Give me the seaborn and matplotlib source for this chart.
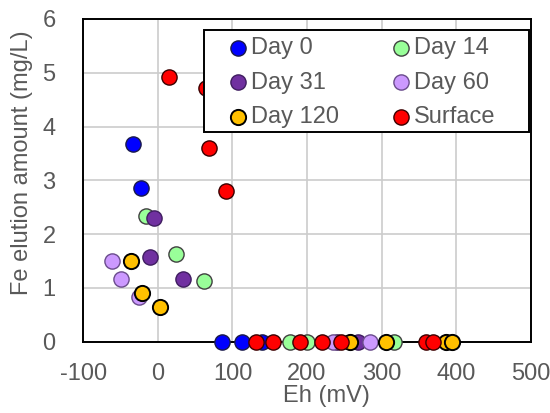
import matplotlib
matplotlib.use('Agg')
import matplotlib.pyplot as plt
from matplotlib.patches import Rectangle
import seaborn as sns
import pandas as pd

# Eh (mV) and Fe elution (mg/L)
day0_eh = [-34, -23, 86, 113, 139]
day0_fe = [3.67, 2.86, 0, 0, 0]
day14_eh = [-16, 24, 62, 177, 200, 316]
day14_fe = [2.34, 1.63, 1.13, 0, 0, 0]
day31_eh = [-5, -10, 33, 240, 269]
day31_fe = [2.30, 1.57, 1.16, 0, 0]
day60_eh = [-62, -50, -25, 235, 285]
day60_fe = [1.50, 1.16, 0.83, 0, 0]
day120_eh = [-36, -21, 3, 258, 306, 387, 394]
day120_fe = [1.50, 0.90, 0.65, 0, 0, 0, 0]
surface_eh = [15, 64, 68, 91, 132, 155, 191, 220, 246, 360, 369]
surface_fe = [4.92, 4.71, 3.61, 2.80, 0, 0, 0, 0, 0, 0, 0]

series = ['Day 0', 'Day 14', 'Day 31', 'Day 60', 'Day 120', 'Surface']
colors = {'Day 0': '#0000FF', 'Day 14': '#99FF99', 'Day 31': '#7030A0',
          'Day 60': '#CC99FF', 'Day 120': '#FFC000', 'Surface': '#FF0000'}
edges = {'Day 0': '#1a1a4a', 'Day 14': '#404040', 'Day 31': '#3f1d60',
         'Day 60': '#6a4c8c', 'Day 120': '#000000', 'Surface': '#3a0000'}

data = pd.concat([
    pd.DataFrame({'Eh': day0_eh, 'Fe': day0_fe, 'Series': 'Day 0'}),
    pd.DataFrame({'Eh': day14_eh, 'Fe': day14_fe, 'Series': 'Day 14'}),
    pd.DataFrame({'Eh': day31_eh, 'Fe': day31_fe, 'Series': 'Day 31'}),
    pd.DataFrame({'Eh': day60_eh, 'Fe': day60_fe, 'Series': 'Day 60'}),
    pd.DataFrame({'Eh': day120_eh, 'Fe': day120_fe, 'Series': 'Day 120'}),
    pd.DataFrame({'Eh': surface_eh, 'Fe': surface_fe, 'Series': 'Surface'}),
], ignore_index=True)

sns.set_style('white')
plt.rcParams['font.family'] = ['Liberation Sans', 'DejaVu Sans']
plt.rcParams['axes.unicode_minus'] = False
text_color = '#595959'

fig = plt.figure(figsize=(5.5, 4.13), dpi=100)
ax = fig.add_axes([0.1515, 0.1726, 0.8135, 0.7814])

for name in series:
    sns.scatterplot(data=data[data['Series'] == name], x='Eh', y='Fe', ax=ax,
                    color=colors[name], edgecolor=edges[name],
                    linewidth=1.4 if name == 'Day 120' else 1.0,
                    s=120, label=name, clip_on=False, zorder=3)

ax.set_xlim(-100, 500)
ax.set_ylim(0, 6)
ax.set_xticks(range(-100, 501, 100))
ax.set_yticks(range(0, 7))
ax.grid(True, color='#cccccc', linewidth=1.2)
ax.set_axisbelow(True)
for sp in ax.spines.values():
    sp.set_color('black')
    sp.set_linewidth(1.4)
    sp.set_visible(True)

ax.tick_params(axis='both', length=0, labelsize=17, labelcolor=text_color)
ax.tick_params(axis='y', pad=20)
ax.tick_params(axis='x', pad=15)
ax.set_xlabel('Eh (mV)', fontsize=17, color=text_color)
ax.set_ylabel('Fe elution amount (mg/L)', fontsize=17, color=text_color)
ax.xaxis.set_label_coords(0.544, -0.135)
ax.yaxis.set_label_coords(-0.112, 0.555)

# legend box drawn separately so its padding can follow the reference
ax.add_patch(Rectangle((0.27, 0.651), 0.726, 0.315, transform=ax.transAxes,
                       facecolor='white', edgecolor='black', linewidth=1.4,
                       zorder=4, clip_on=False))
handles, labels = ax.get_legend_handles_labels()
order = [0, 2, 4, 1, 3, 5]
leg = ax.legend([handles[i] for i in order], [labels[i] for i in order],
                ncol=2, loc='upper left', bbox_to_anchor=(0.3275, 0.944),
                frameon=False, fontsize=17, borderpad=0, borderaxespad=0,
                handlelength=0.7, handletextpad=0.2, columnspacing=2.27,
                labelspacing=0.53)
leg.set_zorder(5)
for t in leg.get_texts():
    t.set_color(text_color)

fig.savefig('out.png', dpi=100)
